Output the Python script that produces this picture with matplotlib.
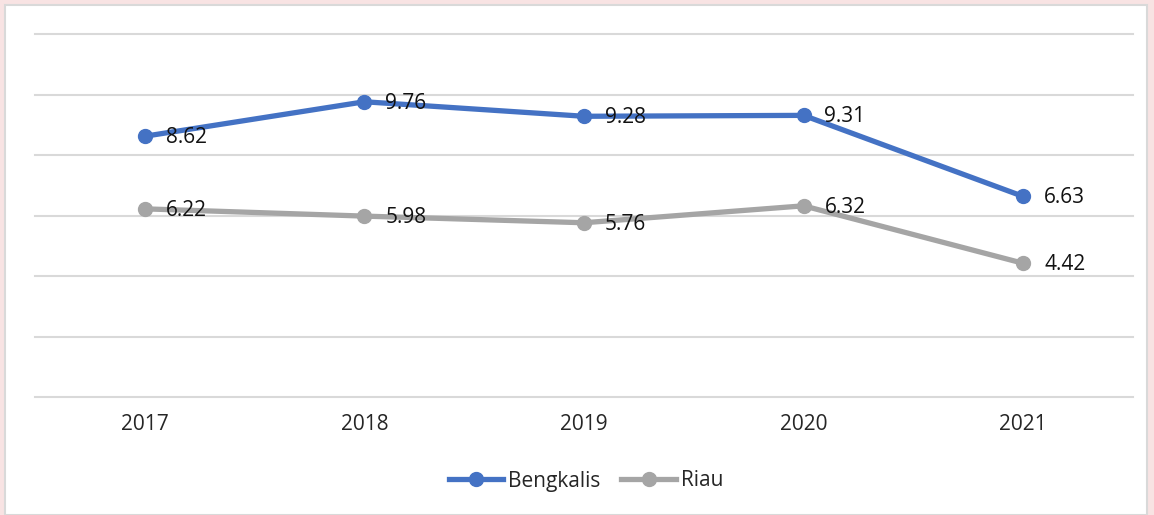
import matplotlib.pyplot as plt
from matplotlib.patches import Rectangle

# data
years = ["2017", "2018", "2019", "2020", "2021"]
bengkalis = [8.62, 9.76, 9.28, 9.31, 6.63]
riau = [6.22, 5.98, 5.76, 6.32, 4.42]

plt.rcParams['font.family'] = ['Open Sans', 'DejaVu Sans']

W, H = 1154, 515
fig = plt.figure(figsize=(W / 100, H / 100), dpi=100, facecolor='#f8e3e3')

# white chart card with thin grey frame
fig.patches.append(Rectangle((5 / W, 0), 1142 / W, 1 - 5 / H, transform=fig.transFigure,
                             facecolor='white', edgecolor='#d9d9d9', linewidth=1.5, zorder=-10))

ax = fig.add_axes([35 / W, 1 - 397 / H, (1133 - 35) / W, (397 - 34) / H])
ax.set_facecolor('none')
ax.set_zorder(2)

x = list(range(len(years)))
blue = '#4472c4'
grey = '#a5a5a5'

ax.plot(x, riau, color=grey, linewidth=3.8, marker='o', markersize=10, label='Riau', zorder=3)
ax.plot(x, bengkalis, color=blue, linewidth=3.8, marker='o', markersize=10, label='Bengkalis', zorder=4)

for xi, v in zip(x, bengkalis):
    ax.annotate(f"{v:.2f}", (xi, v), xytext=(15, -1), textcoords='offset points',
                ha='left', va='center', fontsize=15, color='#111111', zorder=5)
for xi, v in zip(x, riau):
    ax.annotate(f"{v:.2f}", (xi, v), xytext=(15, -1), textcoords='offset points',
                ha='left', va='center', fontsize=15, color='#111111', zorder=5)

ax.set_xlim(-0.5, len(years) - 0.5)
ax.set_ylim(0, 12)
ax.set_yticks(range(0, 13, 2))
ax.set_yticklabels([])
ax.yaxis.grid(True, color='#d9d9d9', linewidth=1.5)
for gl in ax.get_ygridlines():
    gl.set_clip_on(False)
ax.set_axisbelow(True)
ax.tick_params(axis='both', length=0)
ax.set_xticks(x)
ax.set_xticklabels(years, fontsize=15, color='#262626')
ax.tick_params(axis='x', pad=12)
for s in ax.spines.values():
    s.set_visible(False)

handles, labels = ax.get_legend_handles_labels()
fig.legend(handles[::-1], labels[::-1], loc='center', bbox_to_anchor=(586 / W, 1 - 481 / H),
           ncol=2, frameon=False, fontsize=15, handlelength=2.6, columnspacing=1.0,
           handletextpad=0.25, labelcolor='#262626')

fig.savefig('out.png', dpi=100, facecolor=fig.get_facecolor())
